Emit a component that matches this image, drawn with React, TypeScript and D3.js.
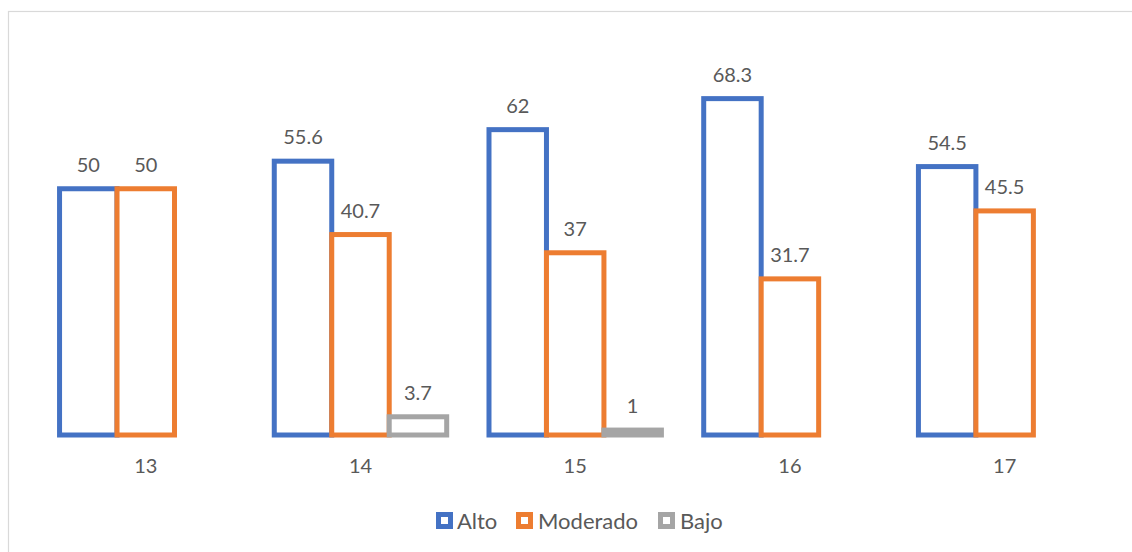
import React from "react";
import * as d3 from "d3";

const categories = ["13", "14", "15", "16", "17"];
const seriesNames = ["Alto", "Moderado", "Bajo"];
const alto: (number | null)[] = [50, 55.6, 62, 68.3, 54.5];
const moderado: (number | null)[] = [50, 40.7, 37, 31.7, 45.5];
const bajo: (number | null)[] = [null, 3.7, 1, null, null];
const colors = ["#4472C4", "#ED7D31", "#A5A5A5"];

const W = 1132;
const H = 552;
const FONT = "Lato, 'Open Sans', sans-serif";
const TEXT = "#595959";

export default function App() {
  const seriesValues = [alto, moderado, bajo];
  const x = d3
    .scaleBand<string>()
    .domain(categories)
    .range([38.4, 1112])
    .paddingInner(0.197)
    .paddingOuter(0.0985);
  const x1 = d3
    .scaleBand<string>()
    .domain(seriesNames)
    .range([0, x.bandwidth()]);
  const y = d3.scaleLinear().domain([0, 80]).range([435, 41]);

  const legendItems = [
    { name: "Alto", sx: 436, tx: 457 },
    { name: "Moderado", sx: 516, tx: 538 },
    { name: "Bajo", sx: 658, tx: 680 },
  ];

  return (
    <svg
      width={W}
      height={H}
      style={{ position: "absolute", left: 0, top: 0, background: "#fff" }}
      fontFamily={FONT}
    >
      <rect x={0} y={0} width={W} height={H} fill="#fff" />
      <rect
        x={8.5}
        y={11.5}
        width={W + 20}
        height={H + 20}
        fill="none"
        stroke="#D9D9D9"
        strokeWidth={1.2}
      />
      {seriesNames.map((s, si) => (
        <g key={s}>
          {categories.map((c, ci) => {
            const v = seriesValues[si][ci];
            if (v == null) return null;
            const bx = (x(c) as number) + (x1(s) as number);
            const bw = x1.bandwidth();
            const top = y(v);
            return (
              <rect
                key={c}
                x={bx}
                y={top}
                width={bw}
                height={y(0) - top}
                fill="#fff"
                stroke={colors[si]}
                strokeWidth={5}
              />
            );
          })}
        </g>
      ))}
      {seriesNames.map((s, si) => (
        <g key={"l" + s}>
          {categories.map((c, ci) => {
            const v = seriesValues[si][ci];
            if (v == null) return null;
            const cx = (x(c) as number) + (x1(s) as number) + x1.bandwidth() / 2;
            return (
              <text
                key={c}
                x={cx}
                y={y(v) - 17}
                textAnchor="middle"
                fontSize={20}
                fill={TEXT}
              >
                {String(v)}
              </text>
            );
          })}
        </g>
      ))}
      {categories.map((c) => (
        <text
          key={"c" + c}
          x={(x(c) as number) + x.bandwidth() / 2}
          y={473}
          textAnchor="middle"
          fontSize={20}
          fill={TEXT}
        >
          {c}
        </text>
      ))}
      {legendItems.map((it, i) => (
        <g key={"lg" + it.name}>
          <rect
            x={it.sx + 2.5}
            y={514.5}
            width={12}
            height={12}
            fill="#fff"
            stroke={colors[i]}
            strokeWidth={5}
          />
          <text x={it.tx} y={528.5} fontSize={22} fill={TEXT}>
            {it.name}
          </text>
        </g>
      ))}
    </svg>
  );
}
